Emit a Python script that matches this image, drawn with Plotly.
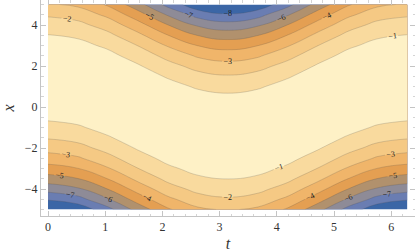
import numpy as np
import plotly.graph_objects as go

# sample grid
t_vals = [0, np.pi / 6, np.pi / 3, np.pi / 2, 2 * np.pi / 3, 5 * np.pi / 6, np.pi,
          7 * np.pi / 6, 4 * np.pi / 3, 3 * np.pi / 2, 5 * np.pi / 3, 11 * np.pi / 6, 2 * np.pi]
x_vals = [-5, -4.5, -4, -3.5, -3, -2.5, -2, -1.5, -1, -0.5, 0,
          0.5, 1, 1.5, 2, 2.5, 3, 3.5, 4, 4.5, 5]

# z profiles along x, one per t column (x = -5 ... 5)
z_t00 = [-9.26, -7.88, -6.60, -5.44, -4.39, -3.45, -2.63, -1.92, -1.32, -0.83, -0.45,
         -0.19, -0.04, -0.00, -0.08, -0.26, -0.56, -0.97, -1.50, -2.13, -2.88]
z_t01 = [-8.72, -7.38, -6.15, -5.03, -4.02, -3.13, -2.34, -1.67, -1.12, -0.67, -0.34,
         -0.12, -0.01, -0.02, -0.13, -0.36, -0.70, -1.16, -1.72, -2.40, -3.19]
z_t02 = [-7.33, -6.10, -4.98, -3.98, -3.09, -2.31, -1.65, -1.10, -0.66, -0.33, -0.11,
         -0.01, -0.02, -0.14, -0.37, -0.72, -1.18, -1.75, -2.43, -3.23, -4.14]
z_t03 = [-5.62, -4.55, -3.60, -2.75, -2.02, -1.40, -0.90, -0.51, -0.22, -0.06, 0.00,
         -0.06, -0.22, -0.51, -0.90, -1.40, -2.02, -2.75, -3.60, -4.55, -5.62]
z_t04 = [-4.14, -3.23, -2.43, -1.75, -1.18, -0.72, -0.37, -0.14, -0.02, -0.01, -0.11,
         -0.33, -0.66, -1.10, -1.65, -2.31, -3.09, -3.98, -4.98, -6.10, -7.33]
z_t05 = [-3.19, -2.40, -1.72, -1.16, -0.70, -0.36, -0.13, -0.02, -0.01, -0.12, -0.34,
         -0.67, -1.12, -1.67, -2.34, -3.13, -4.02, -5.03, -6.15, -7.38, -8.72]
z_t06 = [-2.88, -2.13, -1.50, -0.97, -0.56, -0.26, -0.08, -0.00, -0.04, -0.19, -0.45,
         -0.83, -1.32, -1.92, -2.63, -3.45, -4.39, -5.44, -6.60, -7.88, -9.26]
z_t07 = [-3.19, -2.40, -1.72, -1.16, -0.70, -0.36, -0.13, -0.02, -0.01, -0.12, -0.34,
         -0.67, -1.12, -1.67, -2.34, -3.13, -4.02, -5.03, -6.15, -7.38, -8.72]
z_t08 = [-4.14, -3.23, -2.43, -1.75, -1.18, -0.72, -0.37, -0.14, -0.02, -0.01, -0.11,
         -0.33, -0.66, -1.10, -1.65, -2.31, -3.09, -3.98, -4.98, -6.10, -7.33]
z_t09 = [-5.62, -4.55, -3.60, -2.75, -2.02, -1.40, -0.90, -0.51, -0.22, -0.06, 0.00,
         -0.06, -0.22, -0.51, -0.90, -1.40, -2.02, -2.75, -3.60, -4.55, -5.62]
z_t10 = [-7.33, -6.10, -4.98, -3.98, -3.09, -2.31, -1.65, -1.10, -0.66, -0.33, -0.11,
         -0.01, -0.02, -0.14, -0.37, -0.72, -1.18, -1.75, -2.43, -3.23, -4.14]
z_t11 = [-8.72, -7.38, -6.15, -5.03, -4.02, -3.13, -2.34, -1.67, -1.12, -0.67, -0.34,
         -0.12, -0.01, -0.02, -0.13, -0.36, -0.70, -1.16, -1.72, -2.40, -3.19]
z_t12 = [-9.26, -7.88, -6.60, -5.44, -4.39, -3.45, -2.63, -1.92, -1.32, -0.83, -0.45,
         -0.19, -0.04, -0.00, -0.08, -0.26, -0.56, -0.97, -1.50, -2.13, -2.88]

t_ticks = [0, 1, 2, 3, 4, 5, 6]
x_ticks = [-4, -2, 0, 2, 4]

# band colours, lowest band first
band_colors = ["#3b66a6", "#6a7db2", "#8e8b97", "#b1916d", "#e49f52",
               "#f0b56a", "#f5c984", "#f9da9e", "#fef1c6"]

SERIF = "Times New Roman, Liberation Serif, serif"

z = np.array([z_t00, z_t01, z_t02, z_t03, z_t04, z_t05, z_t06,
              z_t07, z_t08, z_t09, z_t10, z_t11, z_t12]).T

cscale = [[i / (len(band_colors) - 1), c] for i, c in enumerate(band_colors)]

fig = go.Figure(go.Contour(
    x=t_vals, y=x_vals, z=z,
    colorscale=cscale, showscale=False,
    autocontour=False,
    contours=dict(start=-8, end=-1, size=1, coloring="fill", showlabels=True,
                  labelfont=dict(size=8, color="#222", family=SERIF)),
    line=dict(color="rgba(70,70,70,0.4)", width=0.5, smoothing=1.3),
    hoverinfo="skip",
))

axis_common = dict(
    showgrid=False, zeroline=False, showline=True, linecolor="#c4c4c4", linewidth=1,
    mirror="allticks", ticks="inside", ticklen=5, tickcolor="#c4c4c4", tickwidth=1,
    tickfont=dict(family=SERIF, size=12, color="#333"), automargin=False,
)

fig.update_xaxes(
    range=[-0.1224, 6.416], tickvals=t_ticks, **axis_common,
    minor=dict(dtick=0.2, ticks="inside", ticklen=2.5, tickcolor="#d4d4d4"),
    title=dict(text="<i>t</i>", font=dict(family=SERIF, size=16, color="#333"),
               standoff=4),
)
fig.update_yaxes(
    range=[-5.317, 5.22], tickvals=x_ticks, **axis_common,
    minor=dict(dtick=0.5, ticks="inside", ticklen=2.5, tickcolor="#d4d4d4"),
    title=dict(text="<i>x</i>", font=dict(family=SERIF, size=16, color="#333"),
               standoff=6),
)

fig.update_layout(
    width=415, height=252,
    margin=dict(l=41, r=0, t=0, b=36),
    paper_bgcolor="white", plot_bgcolor="white",
    font=dict(family=SERIF),
)

# drop the default 8px page margin so the figure sits at the window origin
fig.write_html("out.html", config={"displayModeBar": False},
               post_script="document.body.style.margin='0';")
